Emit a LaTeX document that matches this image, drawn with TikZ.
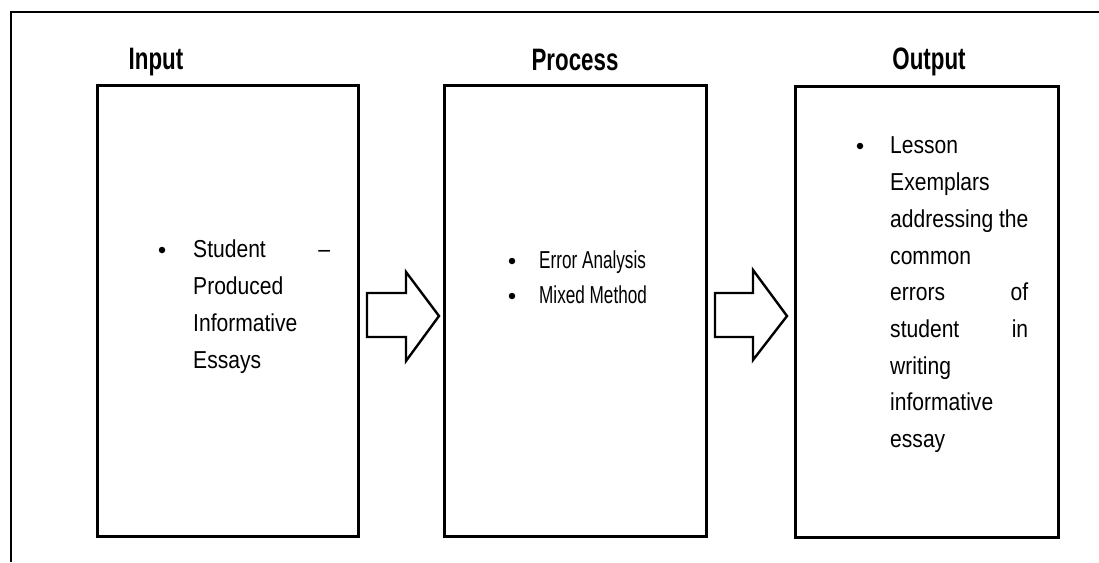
\documentclass[tikz,border=0pt]{standalone}
\usepackage{fontspec}
\setmainfont{Liberation Sans}[FakeStretch=0.86]
\newfontfamily\titlefont{Liberation Sans}[FakeStretch=0.72]
\newfontfamily\procfont{Liberation Sans}[FakeStretch=0.7]
\begin{document}
\begin{tikzpicture}[x=1pt,y=-1pt,
  box/.style={draw=black,line width=3pt},
  frameline/.style={draw=black,line width=1.6pt},
  blockarrow/.style={draw=black,line width=2.4pt,fill=white,line join=miter},
  title/.style={anchor=base,inner sep=0pt,font=\titlefont\bfseries\fontsize{31}{31}\selectfont},
  body/.style={anchor=base west,inner sep=0pt,font=\fontsize{24.5}{24.5}\selectfont},
  procbody/.style={anchor=base west,inner sep=0pt,font=\procfont\fontsize{24.5}{24.5}\selectfont},
  dot/.style={circle,fill=black,inner sep=0pt,minimum size=6.5pt}]
\useasboundingbox (0,0) rectangle (1099,562);
% outer frame (top and left edges visible)
\draw[frameline] (11,562) -- (11,12) -- (1099,12);
% boxes
\draw[box] (97,85) rectangle (358,536);
\draw[box] (444,85) rectangle (706,536);
\draw[box] (795,86) rectangle (1058,537);
% titles
\node[title] (tin) at (156,69) {Input};
\node[title] (tpr) at (575,70) {Process};
\node[title] (tout) at (929,69) {Output};
% block arrows
\draw[blockarrow] (367,293) -- (406,293) -- (406,272) -- (439,316) -- (406,361) -- (406,337) -- (367,337) -- cycle;
\draw[blockarrow] (715,293) -- (753,293) -- (753,270) -- (787,316) -- (753,360) -- (753,337) -- (715,337) -- cycle;
% input text
\node[dot] (b1) at (162,250) {};
\node[body] (i1) at (193,257) {\hbox to 137pt{Student\hfill –}};
\node[body] (i2) at (193,294) {Produced};
\node[body] (i3) at (193,331) {Informative};
\node[body] (i4) at (193,368) {Essays};
% process text
\node[dot] (b2) at (512,261) {};
\node[procbody] (p1) at (539,268) {Error Analysis};
\node[dot] (b3) at (512,296) {};
\node[procbody] (p2) at (539,303) {Mixed Method};
% output text
\node[dot] (b4) at (860,146) {};
\node[body] (o1) at (890,153) {Lesson};
\node[body] (o2) at (890,190) {Exemplars};
\node[body] (o3) at (890,227) {addressing the};
\node[body] (o4) at (890,264) {common};
\node[body] (o5) at (890,300) {\hbox to 138pt{errors\hfill of}};
\node[body] (o6) at (890,337) {\hbox to 138pt{student\hfill in}};
\node[body] (o7) at (890,374) {writing};
\node[body] (o8) at (890,410) {informative};
\node[body] (o9) at (890,447) {essay};
\end{tikzpicture}
\end{document}
